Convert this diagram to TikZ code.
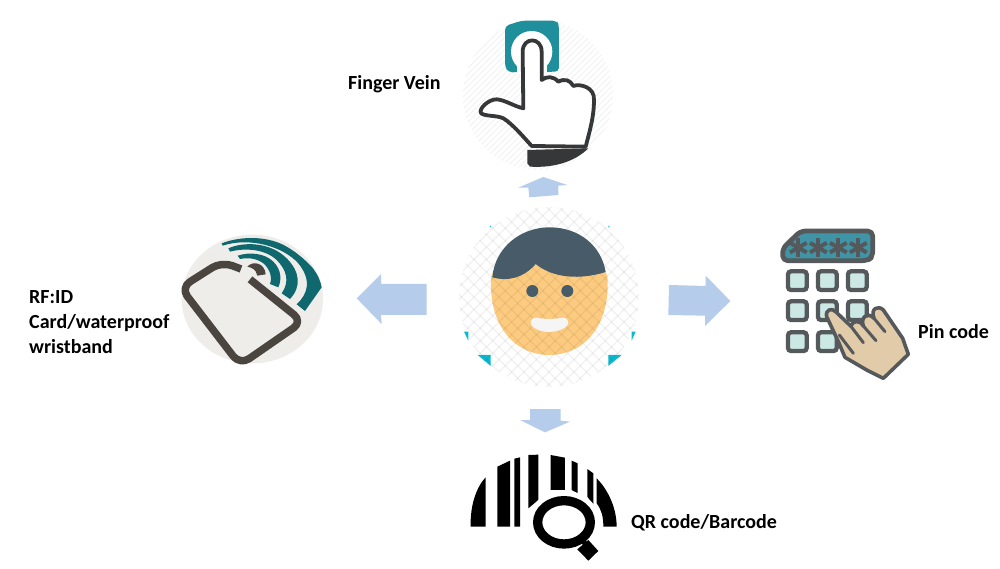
\documentclass[tikz,border=0pt]{standalone}
\usepackage{fontspec}
\setmainfont{Carlito}
\tikzset{
  zoomed/.style 2 args={shift={(#1,#2)},x=.3333pt,y=-.3333pt},
  blockarrow/.style={fill=arrowblue,draw=none},
  caption/.style={font=\fontsize{20}{25}\selectfont\bfseries,anchor=west,align=left,inner sep=0pt,text=black},
  keycap/.style={draw=keygrey,line width=4.3pt,fill=keyfill,rounded corners=3pt},
  handline/.style={draw=handdark,line width=3.8pt,line join=round,line cap=round},
}
\definecolor{arrowblue}{HTML}{B5CDEA}
\definecolor{keygrey}{HTML}{56595B}
\definecolor{keyfill}{HTML}{CBE8E4}
\definecolor{handdark}{HTML}{363738}
\definecolor{teal1}{HTML}{1F8F9B}
\definecolor{teal2}{HTML}{0E686E}
\definecolor{padteal}{HTML}{3F94A5}
\definecolor{cardbg}{HTML}{EFEDEA}
\definecolor{cardline}{HTML}{4B4540}
\definecolor{skin}{HTML}{FDCB80}
\definecolor{hair}{HTML}{475C68}
\definecolor{cyanbit}{HTML}{0CB9D3}
\definecolor{palm}{HTML}{E2CBA8}
\begin{document}
\begin{tikzpicture}[x=1pt,y=-1pt]
\useasboundingbox (0,0) rectangle (1000,569);
\fill[white] (0,0) rectangle (1000,569);

% Finger vein icon
\begin{scope}
  \clip (538,95) circle[radius=75];
  \foreach \k in {-20,...,40}
    \draw[black!5,line width=.8pt] (440+\k*6,180) -- (440+\k*6+190,-10);
\end{scope}
\begin{scope}[zoomed={440}{0}]
  \fill[teal1,rounded corners=4pt] (195,78) -- (245,62) -- (350,62) -- (357,75) -- (357,215) -- (205,217) -- (195,200) -- cycle;
  \fill[white] (275,155) circle[radius=62];
  \fill[white] (232,150) rectangle (322,225);
  \draw[handline,fill=white] (250,325) -- (248,155) .. controls (248,110) and (305,110) .. (305,155)
    -- (305,240) .. controls (320,228) and (340,228) .. (355,245)
    .. controls (375,235) and (390,240) .. (400,258)
    .. controls (420,250) and (465,262) .. (462,300)
    .. controls (462,350) and (450,390) .. (437,440)
    -- (275,438) .. controls (250,410) and (215,370) .. (190,355)
    .. controls (170,345) and (130,350) .. (122,338)
    .. controls (118,325) and (145,298) .. (170,298)
    .. controls (195,300) and (225,320) .. (250,325) -- cycle;
  \fill[handdark] (262,450) -- (445,445) .. controls (410,480) and (350,505) .. (270,500) -- (262,490) -- cycle;
\end{scope}
\draw[blockarrow,zoomed={440}{0}] (265,563) -- (235,563) -- (310,531) -- (382,555) -- (355,557) -- (355,585) -- (268,592) -- cycle;

% Person icon
\begin{scope}[zoomed={440}{200}]
  \fill[cyanbit] (72,395) -- (85,395) -- (85,422) -- cycle;
  \fill[cyanbit] (113,465) -- (152,465) -- (152,498) -- cycle;
  \fill[cyanbit] (505,498) -- (505,465) -- (545,465) -- cycle;
  \fill[cyanbit] (575,395) -- (587,395) -- (575,422) -- cycle;
  \fill[cyanbit] (148,78) -- (153,78) -- (153,83) -- cycle;
  \fill[cyanbit] (505,78) -- (510,78) -- (505,83) -- cycle;
  \fill[skin] (153,240) .. controls (153,130) and (503,130) .. (503,240)
     .. controls (508,380) and (430,465) .. (328,465)
     .. controls (226,465) and (148,380) .. (153,240) -- cycle;
\end{scope}
\begin{scope}
  \clip (549,297) circle[radius=90];
  \foreach \k in {-12,...,12}{
    \draw[black,line width=1.3pt,opacity=.055] (549+\k*12.5-100,197) -- (549+\k*12.5+100,397);
    \draw[black,line width=1.3pt,opacity=.055] (549+\k*12.5+100,197) -- (549+\k*12.5-100,397);
  }
\end{scope}
\begin{scope}[zoomed={440}{200}]
  \fill[hair] (157,232) .. controls (165,140) and (245,82) .. (328,82)
     .. controls (420,82) and (485,140) .. (497,216)
     .. controls (420,240) and (340,235) .. (287,192)
     .. controls (250,235) and (200,245) .. (157,232) -- cycle;
  \fill[hair] (277,273) circle[radius=18];
  \fill[hair] (382,273) circle[radius=18];
  \fill[white!96!black] (290,353) .. controls (310,358) and (345,358) .. (368,353)
     .. controls (388,352) and (390,375) .. (375,383)
     .. controls (345,400) and (310,400) .. (285,385)
     .. controls (265,375) and (270,352) .. (290,353) -- cycle;
\end{scope}

% RFID icon
\begin{scope}[zoomed={170}{225}]
  \fill[cardbg] (247,222) ellipse[x radius=212,y radius=193];
  \fill[teal2] (203,92) .. controls (240,80) and (285,85) .. (310,110)
     .. controls (335,135) and (335,165) .. (325,187) -- (300,177)
     .. controls (308,155) and (298,130) .. (280,115)
     .. controls (260,100) and (235,97) .. (210,102) -- cycle;
  \fill[teal2] (175,70) .. controls (220,50) and (300,50) .. (350,100)
     .. controls (390,140) and (395,185) .. (360,222) -- (335,205)
     .. controls (360,170) and (350,135) .. (320,105)
     .. controls (285,72) and (225,68) .. (180,80) -- cycle;
  \fill[teal2] (155,55) .. controls (220,30) and (300,35) .. (350,65)
     .. controls (385,85) and (410,110) .. (425,125)
     .. controls (445,150) and (452,170) .. (455,187) -- (405,258) -- (380,238)
     .. controls (415,205) and (425,165) .. (385,115)
     .. controls (340,65) and (240,35) .. (158,62) -- cycle;
  \fill[cardline] (232,125) .. controls (250,105) and (285,115) .. (287,148) -- (262,152) .. controls (258,132) and (245,128) .. (232,125) -- cycle;
  \draw[cardline,line width=7.5pt,line join=round,rounded corners=11pt]
     (213,132) -- (155,110) -- (32,188) -- (210,420) -- (398,290) -- (240,163);
\end{scope}

% Pin pad icon
\begin{scope}[zoomed={770}{220}]
  \draw[keygrey,line width=4.8pt,fill=padteal,rounded corners=5pt,line join=round]
     (38,122) -- (38,85) -- (92,33) -- (308,33) -- (308,110) -- (292,122) -- cycle;
  \foreach \sx in {85,145,205,265}{
    \foreach \a in {30,90,150}
      \draw[keygrey,line width=4pt,rotate around={\a:(\sx,83)}] (\sx-29,83) -- (\sx+29,83);
  }
  \foreach \kx in {82,172,262}
    \foreach \ky in {182,272,365}
      \draw[keycap] (\kx-28,\ky-28) rectangle (\kx+28,\ky+28);
  \draw[keygrey,fill=palm,line width=3.6pt,line join=round]
     (170,290) .. controls (165,270) and (185,262) .. (197,275)
     -- (242,318) .. controls (250,300) and (270,300) .. (280,318)
     .. controls (270,290) and (295,275) .. (312,295)
     .. controls (300,265) and (325,255) .. (340,270)
     -- (398,355) -- (415,403) -- (340,475) -- (290,450) -- (225,412) -- (205,365) -- cycle;
  \draw[keygrey,line width=3pt,line cap=round] (242,318) -- (280,368);
  \draw[keygrey,line width=3pt,line cap=round] (280,318) -- (318,362);
  \draw[keygrey,line width=3pt,line cap=round] (312,295) -- (345,335);
  \draw[keygrey,line width=3pt,line cap=round] (208,345) -- (250,400);
\end{scope}

% Barcode icon
\begin{scope}[zoomed={460}{445}]
  \fill[black] (32,245) .. controls (30,180) and (50,125) .. (77,97) -- (77,245) -- cycle;
  \fill[black] (112,65) -- (150,47) -- (150,245) -- (112,245) -- cycle;
  \fill[black] (163,41) -- (180,37) -- (180,245) -- (163,245) -- cycle;
  \fill[black] (205,30) -- (235,29) -- (235,165) -- (205,190) -- cycle;
  \fill[black] (272,30) -- (315,38) -- (315,135) -- (272,135) -- cycle;
  \fill[black] (335,47) -- (353,55) -- (353,145) -- (335,135) -- cycle;
  \fill[black] (382,72) -- (400,85) -- (400,180) -- (382,155) -- cycle;
  \fill[black] (410,100) .. controls (445,135) and (470,190) .. (470,245) -- (430,245) .. controls (430,215) and (425,195) .. (410,175) -- cycle;
  \fill[white] (312,232) ellipse[x radius=108,y radius=95];
  \draw[black,line width=9.3pt] (312,232) ellipse[x radius=79,y radius=65];
  \draw[black,line width=5pt] (365,285) -- (392,312);
  \fill[black] (385,285) -- (415,318) -- (385,347) -- (352,313) -- cycle;
\end{scope}

% Block arrows
\draw[blockarrow,zoomed={350}{265}] (20,100) -- (93,27) -- (93,57) -- (230,57) -- (230,150) -- (93,150) -- (95,177) -- cycle;
\draw[blockarrow,zoomed={660}{265}] (27,60) -- (137,63) -- (137,32) -- (211,108) -- (135,183) -- (135,152) -- (25,150) -- cycle;
\draw[blockarrow,zoomed={510}{400}] (60,27) -- (152,27) -- (152,62) -- (180,65) -- (105,97) -- (30,60) -- (60,60) -- cycle;

% Labels
\node[caption] (finger) at (348,84) {Finger Vein};
\node[caption] (rfid) at (29,322) {RF:ID\\Card/waterproof\\wristband};
\node[caption] (pin) at (918,332) {Pin code};
\node[caption] (qr) at (631,523) {QR code/Barcode};
\end{tikzpicture}
\end{document}
